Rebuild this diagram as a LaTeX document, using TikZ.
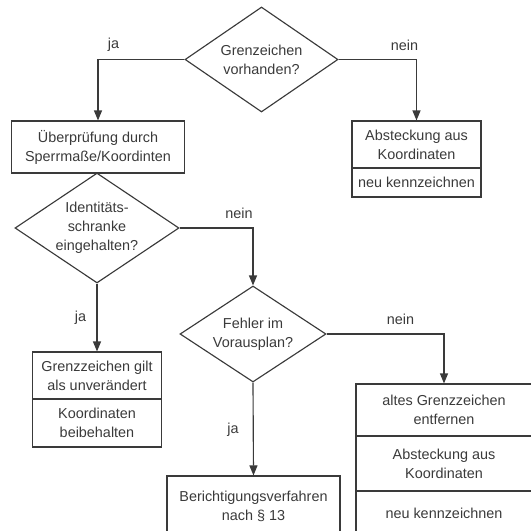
\documentclass[tikz,border=0pt]{standalone}
\usepackage{fontspec}
\setmainfont{Liberation Sans}
\usetikzlibrary{shapes.geometric,arrows.meta}
\definecolor{ink}{HTML}{3A3A3A}

\begin{document}
\begin{tikzpicture}[box/.style = {draw, rectangle, inner sep=0pt, align=center},
		dec/.style = {draw, diamond, aspect=1.5, inner sep=0pt, align=center},
		lbl/.style = {inner sep=0pt},
		every node/.style = {text=ink, font=\fontsize{8.2}{10.8}\selectfont},
		>={Triangle[length=2mm,width=1.6mm]}, draw=ink, line width=0.65pt]
		\useasboundingbox (0,0) rectangle (10.62,-10.62);
		\node[dec, minimum width=3.06cm, minimum height=2.1cm] (1) at (5.23,-1.19) {Grenzeichen\\vorhanden?};
		\node[box, minimum width=3.46cm, minimum height=1.04cm] (2) at (1.96,-2.94) {Überprüfung durch\\Sperrmaße/Koordinten};
		\node[box, minimum width=2.58cm, minimum height=0.94cm] (3) at (8.33,-2.89) {Absteckung aus\\Koordinaten};
		\node[box, minimum width=2.58cm, minimum height=0.58cm] (4) at (8.33,-3.65) {neu kennzeichnen};
		\node[dec, minimum width=3.28cm, minimum height=2.2cm] (5) at (1.94,-4.56) {Identitäts-\\schranke\\eingehalten?};
		\node[dec, minimum width=2.92cm, minimum height=1.92cm] (6) at (5.06,-6.68) {Fehler im\\Vorausplan?};
		\node[box, minimum width=2.58cm, minimum height=0.94cm] (7) at (1.94,-7.51) {Grenzzeichen gilt\\als unverändert};
		\node[box, minimum width=2.58cm, minimum height=0.96cm] (8) at (1.94,-8.46) {Koordinaten\\beibehalten};
		\node[box, minimum width=3.46cm, minimum height=1.2cm] (9) at (5.07,-10.12) {Berichtigungsverfahren\\nach § 13};
		\node[box, minimum width=3.52cm, minimum height=1.04cm] (10) at (8.88,-8.20) {altes Grenzzeichen\\entfernen};
		\node[box, minimum width=3.52cm, minimum height=1.10cm] (11) at (8.88,-9.27) {Absteckung aus\\Koordinaten};
		\node[box, minimum width=3.52cm, minimum height=0.9cm] (12) at (8.88,-10.27) {neu kennzeichnen};
		\node[lbl] (ja1) at (2.27,-0.90) {ja};
		\node[lbl] (nein1) at (8.09,-0.90) {nein};
		\node[lbl] (nein2) at (4.78,-4.26) {nein};
		\node[lbl] (ja2) at (1.61,-6.36) {ja};
		\node[lbl] (nein3) at (8.01,-6.38) {nein};
		\node[lbl] (ja3) at (4.66,-8.60) {ja};
		\draw[->] (1.west) -| (2.north);
		\draw[->] (1.east) -| (3.north);
		\draw[->] (5.east) -| (6.north);
		\draw[->] (5.south) -- (7.north);
		\draw[->] (6.east) -| (10.north);
		\draw[->] (6.south) -- (9.north);
	\end{tikzpicture}
\end{document}
